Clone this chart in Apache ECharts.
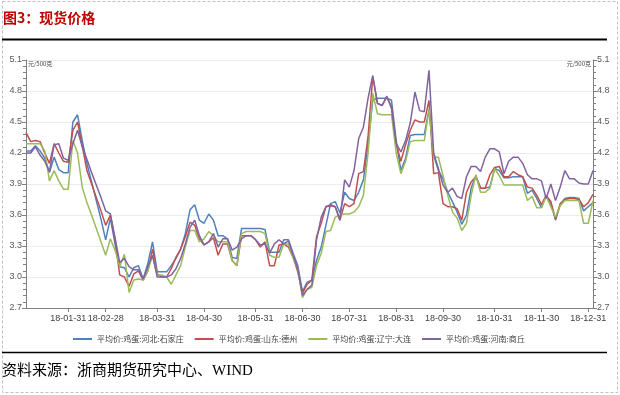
<!DOCTYPE html>
<html><head><meta charset="utf-8">
<script src="https://cdn.jsdelivr.net/npm/echarts@6/dist/echarts.min.js"></script>
<style>html,body{margin:0;padding:0;background:#fff}#c{width:620px;height:395px}</style>
</head><body><div id="c"></div>
<script>
// Categories (sampled trading dates)
const dates = [
 '18-01-02','18-01-05','18-01-09','18-01-12','18-01-16','18-01-19','18-01-23','18-01-25','18-01-29','18-01-31',
 '18-02-02','18-02-06','18-02-08','18-02-12','18-02-14','18-02-22','18-02-26','18-02-28',
 '18-03-02','18-03-05','18-03-08','18-03-12','18-03-14','18-03-16','18-03-20','18-03-22','18-03-26','18-03-28','18-03-31',
 '18-04-03','18-04-09','18-04-11','18-04-13','18-04-17','18-04-19','18-04-23','18-04-25','18-04-27','18-04-30',
 '18-05-02','18-05-04','18-05-08','18-05-10','18-05-14','18-05-16','18-05-18','18-05-22','18-05-24','18-05-28','18-05-31',
 '18-06-04','18-06-06','18-06-08','18-06-12','18-06-14','18-06-19','18-06-21','18-06-25','18-06-27','18-06-30',
 '18-07-03','18-07-05','18-07-09','18-07-11','18-07-13','18-07-17','18-07-19','18-07-23','18-07-26','18-07-31',
 '18-08-02','18-08-06','18-08-08','18-08-10','18-08-14','18-08-16','18-08-20','18-08-22','18-08-27','18-08-31',
 '18-09-04','18-09-06','18-09-10','18-09-12','18-09-14','18-09-18','18-09-20','18-09-25','18-09-27','18-09-30',
 '18-10-08','18-10-10','18-10-12','18-10-15','18-10-17','18-10-19','18-10-22','18-10-24','18-10-26','18-10-29','18-10-31',
 '18-11-02','18-11-06','18-11-08','18-11-12','18-11-14','18-11-16','18-11-20','18-11-22','18-11-26','18-11-30',
 '18-12-04','18-12-06','18-12-10','18-12-12','18-12-14','18-12-18','18-12-20','18-12-24','18-12-27','18-12-31',
 '19-01-02'
];
const tickLabels = ['18-01-31','18-02-28','18-03-31','18-04-30','18-05-31','18-06-30','18-07-31','18-08-31','18-09-30','18-10-31','18-11-30','18-12-31'];
const seriesNames = ['平均价:鸡蛋:河北:石家庄','平均价:鸡蛋:山东:德州','平均价:鸡蛋:辽宁:大连','平均价:鸡蛋:河南:商丘'];
const yMin = 2.7, yMax = 5.1, yStep = 0.3;
const unitLabel = '元/500克';

const hebei = [
 4.22,4.22,4.27,4.22,4.15,4.01,4.16,4.04,4.01,4.01,
 4.50,4.57,4.32,4.10,3.92,3.74,3.56,3.36,
 3.57,3.32,3.10,3.09,3.00,3.09,3.11,2.98,3.13,3.34,3.05,
 3.05,3.05,3.11,3.18,3.27,3.42,3.65,3.70,3.55,3.52,
 3.61,3.55,3.40,3.40,3.37,3.19,3.18,3.47,3.47,3.47,3.47,
 3.47,3.46,3.24,3.24,3.24,3.36,3.36,3.23,3.11,2.86,
 2.95,2.97,3.16,3.29,3.50,3.71,3.73,3.62,3.82,3.76,
 3.74,3.82,3.94,4.28,4.71,4.73,4.73,4.73,4.71,4.32,
 4.03,4.15,4.37,4.38,4.38,4.38,4.62,4.18,4.03,3.95,
 3.82,3.73,3.63,3.51,3.60,3.86,3.98,3.86,3.86,3.87,4.05,
 4.03,3.96,3.96,3.97,3.97,3.97,3.81,3.84,3.76,3.67,
 3.79,3.71,3.55,3.70,3.76,3.77,3.77,3.76,3.64,3.68,
 3.72
];
const shandong = [
 4.40,4.31,4.32,4.31,4.20,4.10,4.29,4.20,4.12,4.11,
 4.42,4.50,4.27,4.03,3.90,3.77,3.64,3.50,
 3.60,3.36,3.02,3.00,2.91,3.03,3.06,2.97,3.06,3.27,3.03,
 3.00,3.00,3.08,3.19,3.27,3.39,3.53,3.50,3.37,3.31,
 3.34,3.38,3.21,3.32,3.32,3.16,3.11,3.40,3.40,3.40,3.36,
 3.29,3.34,3.11,3.11,3.31,3.32,3.29,3.19,3.05,2.84,
 2.93,2.97,3.39,3.52,3.68,3.69,3.68,3.55,3.71,3.68,
 3.71,4.00,4.02,4.36,4.94,4.68,4.66,4.74,4.65,4.29,
 4.12,4.28,4.42,4.52,4.50,4.50,4.71,4.00,4.01,3.71,
 3.68,3.68,3.66,3.55,3.82,3.92,3.97,3.86,3.86,3.99,4.06,
 4.07,3.97,3.97,4.02,3.99,3.97,3.87,3.86,3.79,3.70,
 3.79,3.73,3.56,3.71,3.75,3.76,3.76,3.75,3.68,3.72,
 3.80
];
const liaoning = [
 4.29,4.29,4.29,4.29,4.22,3.93,4.03,3.93,3.85,3.85,
 4.32,4.20,3.87,3.72,3.60,3.47,3.34,3.21,
 3.37,3.26,3.10,3.22,2.85,2.97,2.98,2.97,3.06,3.21,3.02,
 3.02,3.00,2.93,3.02,3.11,3.29,3.45,3.45,3.34,3.37,
 3.44,3.40,3.34,3.34,3.34,3.16,3.11,3.42,3.44,3.44,3.44,
 3.44,3.42,3.21,3.19,3.19,3.32,3.32,3.19,3.08,2.80,
 2.88,2.90,3.11,3.23,3.44,3.45,3.58,3.60,3.61,3.61,
 3.63,3.68,3.79,4.20,4.78,4.58,4.57,4.57,4.57,4.20,
 4.00,4.12,4.31,4.32,4.32,4.32,4.62,4.16,4.16,3.98,
 3.79,3.63,3.57,3.45,3.52,3.79,3.99,3.82,3.82,3.86,4.05,
 3.98,3.89,3.89,3.89,3.89,3.89,3.74,3.78,3.67,3.67,
 3.78,3.68,3.58,3.69,3.74,3.74,3.74,3.74,3.52,3.52,
 3.74
];
const henan = [
 4.20,4.20,4.26,4.18,4.12,4.02,4.28,4.29,4.15,4.13,
 4.29,4.42,4.26,4.14,4.01,3.89,3.77,3.64,
 3.61,3.38,3.14,3.18,3.10,3.07,3.07,2.98,3.10,3.21,3.00,
 3.00,3.00,3.02,3.08,3.18,3.32,3.48,3.55,3.40,3.31,
 3.34,3.42,3.29,3.37,3.37,3.26,3.29,3.37,3.40,3.40,3.36,
 3.31,3.32,3.23,3.32,3.36,3.32,3.35,3.21,3.08,2.82,
 2.88,2.92,3.36,3.58,3.68,3.70,3.68,3.55,3.94,3.87,
 4.03,4.34,4.45,4.73,4.95,4.68,4.66,4.75,4.63,4.29,
 4.21,4.32,4.49,4.79,4.61,4.60,5.00,4.20,4.05,3.89,
 3.82,3.86,3.78,3.76,3.97,4.07,4.07,4.02,4.16,4.24,4.24,
 4.21,4.00,4.12,4.16,4.16,4.10,3.99,3.95,3.95,3.93,
 3.76,3.90,3.74,3.87,4.03,3.95,3.95,3.91,3.90,3.90,
 4.03
];
const colors = ['#4F81BD','#C0504D','#9BBB59','#8064A2'];
const values = [hebei, shandong, liaoning, henan];

const tickSet = new Set(tickLabels);
const font = "'Liberation Sans', Arial, 'Noto Sans CJK SC', sans-serif";
const chart = echarts.init(document.getElementById('c'));
const yAxisBase = {
  type: 'value', min: yMin, max: yMax, interval: yStep,
  axisLine: {show: true, lineStyle: {color: '#7f7f7f', width: 1}},
  axisTick: {show: true, length: 4, lineStyle: {color: '#7f7f7f'}},
  minorTick: {show: true, splitNumber: 5, length: 3, lineStyle: {color: '#7f7f7f'}},
  axisLabel: {fontSize: 9, color: '#595959', margin: 4, fontFamily: font, formatter: v => v.toFixed(1)},
  name: unitLabel, nameGap: -4,
  nameTextStyle: {fontSize: 6, color: '#404040', fontFamily: "'Noto Sans CJK SC', sans-serif", verticalAlign: 'middle'}
};
chart.setOption({
  animation: false,
  textStyle: {fontFamily: font},
  grid: {left: 26, right: 27, top: 60, bottom: 87},
  legend: {
    data: seriesNames, top: 330, left: 68, icon: 'rect', itemWidth: 19, itemHeight: 2,
    itemGap: 11, textStyle: {fontSize: 8, color: '#404040', fontFamily: "'Noto Sans CJK SC', sans-serif"}
  },
  xAxis: {
    type: 'category', data: dates, boundaryGap: false,
    axisLine: {lineStyle: {color: '#7f7f7f'}},
    axisTick: {show: true, length: 4, interval: (i, v) => tickSet.has(v), lineStyle: {color: '#7f7f7f'}},
    axisLabel: {fontSize: 9, color: '#404040', margin: 6, interval: (i, v) => tickSet.has(v), fontFamily: font}
  },
  yAxis: [
    Object.assign({}, yAxisBase, {position: 'left',
      nameTextStyle: Object.assign({}, yAxisBase.nameTextStyle, {align: 'left', padding: [0,0,0,2]}),
      splitLine: {show: true, lineStyle: {color: '#EBEBEB', width: 1}}}),
    Object.assign({}, yAxisBase, {position: 'right',
      nameTextStyle: Object.assign({}, yAxisBase.nameTextStyle, {align: 'right', padding: [0,2,0,0]}),
      splitLine: {show: false}})
  ],
  series: seriesNames.map((n, k) => ({
    name: n, type: 'line', data: values[k], yAxisIndex: 0, showSymbol: false, symbol: 'none',
    color: colors[k], lineStyle: {width: 1.5, color: colors[k]}
  })),
  graphic: [
    {type: 'rect', shape: {x: 2.5, y: 1.5, width: 615, height: 391}, style: {fill: 'none', stroke: '#BFBFBF', lineWidth: 1, lineDash: [3, 2]}, silent: true},
    {type: 'text', left: 3, top: 11, style: {text: '图3：现货价格', fill: '#C00000', font: "bold 14px 'Noto Sans CJK SC', sans-serif"}},
    {type: 'line', shape: {x1: 2, y1: 39.5, x2: 607, y2: 39.5}, style: {stroke: '#000', lineWidth: 2}},
    {type: 'line', shape: {x1: 2, y1: 352.5, x2: 607, y2: 352.5}, style: {stroke: '#000', lineWidth: 1.5}},
    {type: 'text', left: 2, top: 364, style: {text: '资料来源：浙商期货研究中心、WIND', fill: '#000', font: "15px 'Liberation Serif', 'Noto Sans CJK SC', serif"}}
  ]
});
</script></body></html>
